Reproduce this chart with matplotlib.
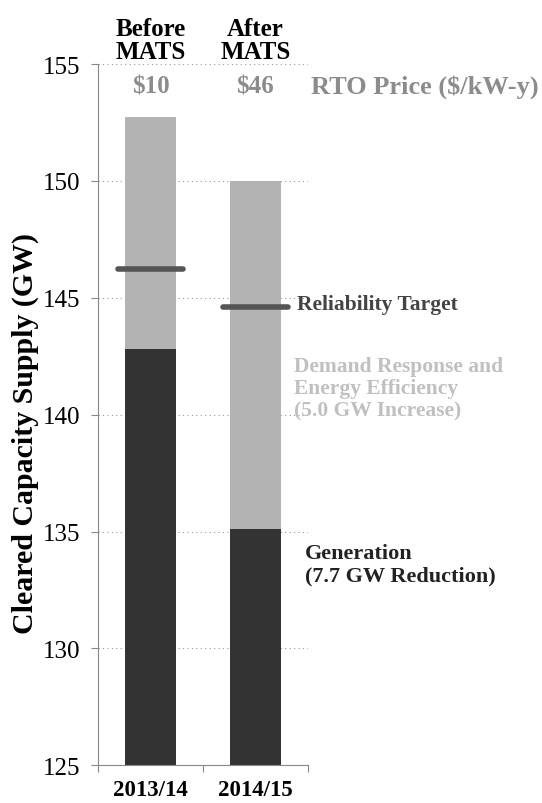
import matplotlib
matplotlib.use("Agg")
from matplotlib import pyplot as plt
import numpy as np

years = ["2013/14", "2014/15"]
eras = ["Before\nMATS", "After\nMATS"]
prices = ["$10", "$46"]
generation = [142.8, 135.1]
total_supply = [152.75, 150.0]
reliability_target = [146.25, 144.6]

plt.rcParams['font.family'] = ['Liberation Serif', 'DejaVu Serif']

fig = plt.figure(figsize=(5.42, 8.04), dpi=100)
ax = fig.add_axes([0.181, 0.047, 0.387, 0.872])

x = np.array([0.5, 1.5])
base = 125
dr = np.array(total_supply) - np.array(generation)
ax.bar(x, np.array(generation) - base, bottom=base, width=0.48, color='#333333', zorder=2)
ax.bar(x, dr, bottom=generation, width=0.48, color='#b3b3b3', zorder=2)
for xi, t in zip(x, reliability_target):
    ax.plot([xi - 0.31, xi + 0.31], [t, t], color='#555555', lw=4,
            solid_capstyle='round', zorder=3, clip_on=False)

ax.set_xlim(0, 2)
ax.set_ylim(125, 155)
ax.set_yticks(np.arange(125, 156, 5))
ax.set_xticks([0, 1, 2])
ax.set_xticklabels([])
ax.yaxis.grid(True, linestyle=(0, (1, 3)), color='#999999', lw=0.8, zorder=0)
for s in ['top', 'right']:
    ax.spines[s].set_visible(False)
for s in ['left', 'bottom']:
    ax.spines[s].set_color('#888888')
ax.tick_params(axis='y', labelsize=18, color='#888888', length=5, pad=8)
ax.tick_params(axis='x', color='#888888', length=5)
for xi, yr in zip(x, years):
    ax.text(xi, 124.4, yr, ha='center', va='top', fontsize=16.5, fontweight='bold')

ax.set_ylabel('Cleared Capacity Supply (GW)', fontsize=21.5, fontweight='bold')
ax.yaxis.set_label_coords(-0.28, 0.474)

for xi, era, p in zip(x, eras, prices):
    ax.text(xi, 155.05, era, ha='center', va='bottom', fontsize=18, fontweight='bold',
            linespacing=1.0)
    ax.text(xi, 154.05, p, ha='center', va='center', fontsize=18, fontweight='bold',
            color='#8c8c8c')
ax.text(2.03, 154.05, 'RTO Price ($/kW-y)', ha='left', va='center', fontsize=19,
        fontweight='bold', color='#8c8c8c')

ax.text(1.9, 144.75, 'Reliability Target', ha='left', va='center',
        fontsize=15.5, fontweight='bold', color='#444444')
ax.text(1.87, 141.15, 'Demand Response and\nEnergy Efficiency\n(5.0 GW Increase)',
        ha='left', va='center', fontsize=15.5, fontweight='bold', color='#c0c0c0',
        linespacing=1.15)
ax.text(1.97, 133.6, 'Generation\n(7.7 GW Reduction)', ha='left', va='center',
        fontsize=16, fontweight='bold', color='#222222', linespacing=1.15)

fig.savefig('out.png', dpi=100)
